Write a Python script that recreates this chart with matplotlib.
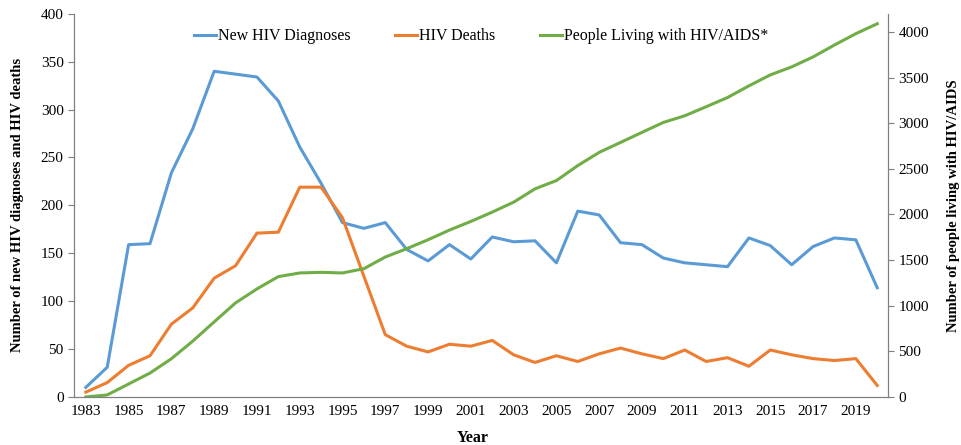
import matplotlib
matplotlib.use("Agg")
import matplotlib.pyplot as plt

plt.rcParams['font.family'] = ['Liberation Serif', 'DejaVu Serif']

years = list(range(1983, 2021))

new_diagnoses = [10, 31, 159, 160, 234, 280, 340, 337, 334, 309,
                 261, 223, 182, 176, 182, 154, 142, 159, 144, 167,
                 162, 163, 140, 194, 190, 161, 159, 145, 140, 138,
                 136, 166, 158, 138, 157, 166, 164, 114]

deaths = [5, 15, 33, 43, 76, 93, 124, 137, 171, 172,
          219, 219, 187, 126, 65, 53, 47, 55, 53, 59,
          44, 36, 43, 37, 45, 51, 45, 40, 49, 37,
          41, 32, 49, 44, 40, 38, 40, 12]

living = [0, 22, 142, 262, 419, 612, 823, 1031, 1184, 1319,
          1359, 1366, 1359, 1406, 1534, 1625, 1723, 1829, 1924, 2026,
          2135, 2281, 2372, 2536, 2681, 2790, 2900, 3009, 3082, 3181,
          3282, 3410, 3530, 3618, 3727, 3858, 3982, 4091]

xtick_years = list(range(1983, 2020, 2))

blue = '#5B9BD5'
orange = '#ED7D31'
green = '#70AD47'
axis_grey = '#7F7F7F'

fig = plt.figure(figsize=(9.62, 4.45), dpi=100)
ax = fig.add_axes([0.077, 0.108, 0.846, 0.861])
ax2 = ax.twinx()

l1, = ax.plot(years, new_diagnoses, color=blue, lw=2.2, label='New HIV Diagnoses')
l2, = ax.plot(years, deaths, color=orange, lw=2.2, label='HIV Deaths')
l3, = ax2.plot(years, living, color=green, lw=2.2, label='People Living with HIV/AIDS*')

ax.set_xlim(1982.45, 2020.5)
ax.set_ylim(0, 400)
ax2.set_ylim(0, 4200)
ax.set_yticks(range(0, 401, 50))
ax2.set_yticks(range(0, 4001, 500))
ax.set_xticks(xtick_years)

for a in (ax, ax2):
    a.spines['top'].set_visible(False)
    for s in ('left', 'right', 'bottom'):
        a.spines[s].set_color(axis_grey)
    a.tick_params(axis='y', colors=axis_grey, labelcolor='black', labelsize=11,
                  length=4, width=0.8)
ax.tick_params(axis='x', length=0, labelsize=11, pad=6)

ax.set_xlabel('Year', fontweight='bold', fontsize=11.5)
ax.xaxis.set_label_coords(0.49, -0.085)
ax.set_ylabel('Number of new HIV diagnoses and HIV deaths', fontweight='bold', fontsize=10.5)
ax.yaxis.set_label_coords(-0.062, 0.5)
ax2.set_ylabel('Number of people living with HIV/AIDS', fontweight='bold', fontsize=10.5)
ax2.yaxis.set_label_coords(1.073, 0.5)

ax.legend(handles=[l1, l2, l3], loc='upper center', bbox_to_anchor=(0.5, 1.0),
          ncol=3, frameon=False, fontsize=11.5, handlelength=1.4, handletextpad=0.1,
          columnspacing=2.8)

fig.savefig('out.png', dpi=100)
